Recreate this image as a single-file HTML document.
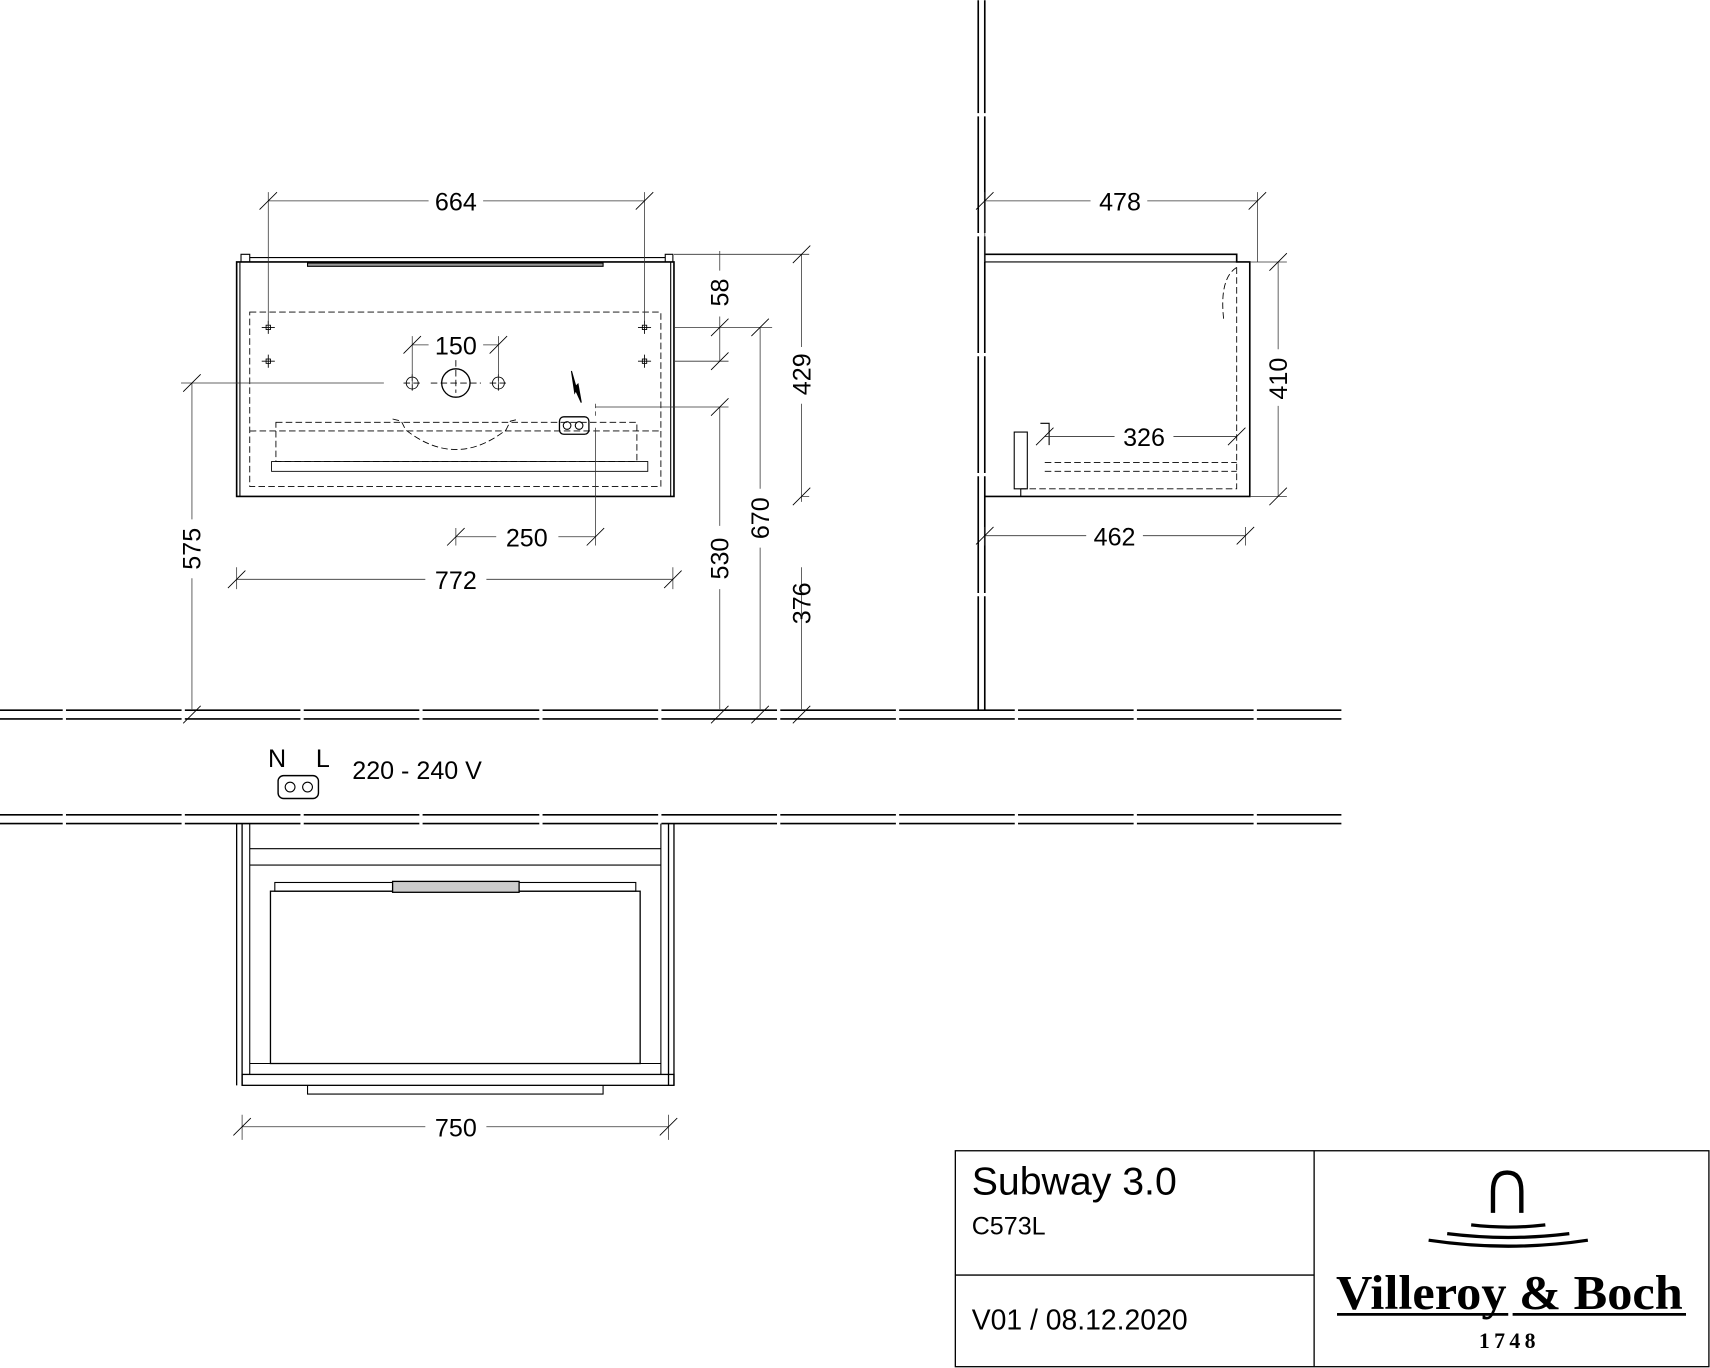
<!DOCTYPE html>
<html><head><meta charset="utf-8"><style>
html,body{margin:0;padding:0;background:#fff;}
svg{display:block}
text{font-family:"Liberation Sans",sans-serif;fill:#000}
</style></head><body>
<svg width="1710" height="1368" viewBox="0 0 1568 1254" xmlns="http://www.w3.org/2000/svg">
<g fill="none" stroke="#000" stroke-width="1">
<g stroke-width="1.5">
<path d="M0 651H1230M0 659H1230M0 747H1230M0 755H1230"/>
</g>
<g stroke="#fff" stroke-width="3">
<path d="M59 649v12M168 649v12M277 649v12M386 649v12M496 649v12M605 649v12M714 649v12M823 649v12M932 649v12M1041 649v12M1151 649v12"/>
<path d="M59 745v12M168 745v12M277 745v12M386 745v12M496 745v12M605 745v12M714 745v12M823 745v12M932 745v12M1041 745v12M1151 745v12"/>
</g>
<g stroke-width="1.5"><path d="M897 0V651M903 0V651"/></g>
<g stroke="#fff" stroke-width="3"><path d="M895 105h10M895 215h10M895 325h10M895 435h10M895 545h10"/></g>

<rect x="217" y="240" width="401" height="215" stroke-width="1.5"/>
<path d="M221 240v-7h8v7M610 240v-7h7v7M229 236H610M220 240V455M615 240V455" />
<rect x="282" y="241" width="271" height="3" fill="#999"/>
<g stroke-dasharray="6,3" stroke-width="0.8">
<rect x="229" y="286" width="377" height="160"/>
<path d="M229 395H606"/>
<rect x="253" y="387" width="331" height="36"/>
<path d="M360 384 L368 386 L372 394 Q418 430 464 394 L468 386 L476 384"/>
</g>
<rect x="249" y="423" width="345" height="9" stroke-width="0.8"/>
<g stroke-width="0.8">
<rect x="244" y="298" width="4" height="4"/><rect x="244" y="329" width="4" height="4"/>
<rect x="589" y="298" width="4" height="4"/><rect x="589" y="329" width="4" height="4"/>
<path d="M240 300h12M246 294v12M240 331h12M246 325v12M585 300h12M591 294v12M585 331h12M591 325v12"/>
<circle cx="418" cy="351" r="13" stroke-width="1.2"/>
<circle cx="378" cy="351" r="5.5"/><circle cx="457" cy="351" r="5.5"/>
<path d="M395 351h46M418 330v30M370 351h18M449 351h18M378 343v18M457 343v18" stroke-dasharray="6,3"/>
</g>
<rect x="513" y="382" width="27" height="16" rx="4" stroke-width="1.2"/>
<circle cx="520" cy="390" r="3.5"/><circle cx="531" cy="390" r="3.5"/>
<path d="M524 340 L528 354 L530 352 L533 369 L528 358 L527 360 Z" fill="#000"/>
<g stroke-width="0.7" stroke="#333">
<path d="M246 176V300M591 176V300M246 184H393M443 184H591"/>
<path d="M378 308V352M457 308V352M378 316H393M443 316H457"/>
<path d="M618 233H742M735 233V318M735 370V460M735 520V650M618 300H708M618 331H668M546 373H668M660 300V331M660 230V248M660 290V300M660 373V482M660 540V650M697 300V448M697 502V650M735 455H742"/>
<path d="M166 351H352M176 351V476M176 530V650"/>
<path d="M418 484V500M546 392V500M418 492H455M512 492H546"/>
<path d="M217 520V540M617 520V540M217 531H390M446 531H617"/>
<path d="M546 370V384" stroke-dasharray="4,3"/>
<path d="M222 1022V1045M613 1022V1045M222 1033H390M446 1033H613"/>
</g>
<g stroke-width="0.8">
<path d="M238 192l16-16M583 192l16-16M370 324l16-16M449 324l16-16M727 241l16-16M727 463l16-16M727 663l16-16M652 308l16-16M652 339l16-16M652 381l16-16M652 663l16-16M689 308l16-16M689 663l16-16M168 359l16-16M168 663l16-16M410 500l16-16M538 500l16-16M209 539l16-16M609 539l16-16M214 1041l16-16M605 1041l16-16"/>
</g>

<path d="M903 233H1134V240H1146V455H903" stroke-width="1.5"/>
<path d="M903 240H1134"/>
<g stroke-dasharray="6,3" stroke-width="0.8">
<path d="M1134 245V448H936M958 424H1134M958 432H1134"/>
<path d="M1134 245 Q1118 255 1122 292"/>
</g>
<path d="M930 396H942V448H930ZM954 388H962V408M936 448V455"/>
<g stroke-width="0.7" stroke="#333">
<path d="M903 176V240M1153 176V240M903 184H1000M1052 184H1153"/>
<path d="M1146 240H1180M1146 455H1180M1172 240V320M1172 372V455"/>
<path d="M903 483V500M1142 483V500M903 491H996M1048 491H1142"/>
<path d="M958 400H1022M1076 400H1134"/>
</g>
<g stroke-width="0.8">
<path d="M895 192l16-16M1145 192l16-16M1164 248l16-16M1164 463l16-16M895 499l16-16M1134 499l16-16M950 408l16-16M1126 408l16-16"/>
</g>

<rect x="255" y="711" width="37" height="21" rx="5" stroke-width="1.3"/>
<circle cx="266" cy="721.5" r="4.5"/><circle cx="282" cy="721.5" r="4.5"/>

<path d="M217 755V995M222 755V995M613 755V995M618 755V995" stroke-width="1.2"/>
<path d="M229 755V985M606 755V985M229 778H606M229 793H606M229 975H606"/>
<rect x="222" y="985" width="396" height="10" stroke-width="1.2"/>
<path d="M282 995V1003H553V995"/>
<rect x="252" y="809" width="331" height="8"/>
<rect x="248" y="817" width="339" height="158" stroke-width="1.2"/>
<rect x="360" y="808" width="116" height="10" fill="#ccc" stroke-width="1.2"/>

<rect x="876" y="1055" width="691" height="198" stroke-width="1.2"/>
<path d="M1205 1055V1253M876 1169H1205" stroke-width="1.2"/>
<path d="M1369 1112V1092Q1369 1075 1382 1075Q1395 1075 1395 1092V1112" stroke-width="4"/>
<path d="M1349 1123Q1383 1127 1417 1123M1327 1131Q1383 1138 1439 1131M1310 1137Q1383 1148 1456 1137" stroke-width="3"/>
<path d="M1226 1205H1383M1387 1205H1546" stroke-width="2.5"/>
</g>

<g font-size="23" text-anchor="middle">
<text x="418" y="193">664</text>
<text x="418" y="325">150</text>
<text x="483" y="501">250</text>
<text x="418" y="540">772</text>
<text x="418" y="1042">750</text>
<text x="1027" y="193">478</text>
<text x="1022" y="500">462</text>
<text x="1049" y="409">326</text>
<text transform="translate(668,268) rotate(-90)">58</text>
<text transform="translate(743,343) rotate(-90)">429</text>
<text transform="translate(705,475) rotate(-90)">670</text>
<text transform="translate(668,512) rotate(-90)">530</text>
<text transform="translate(743,553) rotate(-90)">376</text>
<text transform="translate(184,503) rotate(-90)">575</text>
<text transform="translate(1180,347) rotate(-90)">410</text>
<text x="254" y="703">N</text>
<text x="296" y="703">L</text>
</g>
<text x="323" y="714" font-size="23">220 - 240 V</text>
<text x="891" y="1095" font-size="36">Subway 3.0</text>
<text x="891" y="1132" font-size="23">C573L</text>
<text x="891" y="1219" font-size="26">V01 / 08.12.2020</text>
<text x="1384" y="1200" font-size="45" font-weight="bold" text-anchor="middle" textLength="318" lengthAdjust="spacingAndGlyphs" style="font-family:'Liberation Serif',serif">Villeroy &amp; Boch</text>
<text x="1384" y="1236" font-size="20" font-weight="bold" text-anchor="middle" letter-spacing="4" style="font-family:'Liberation Serif',serif">1748</text>
</svg>
</body></html>
